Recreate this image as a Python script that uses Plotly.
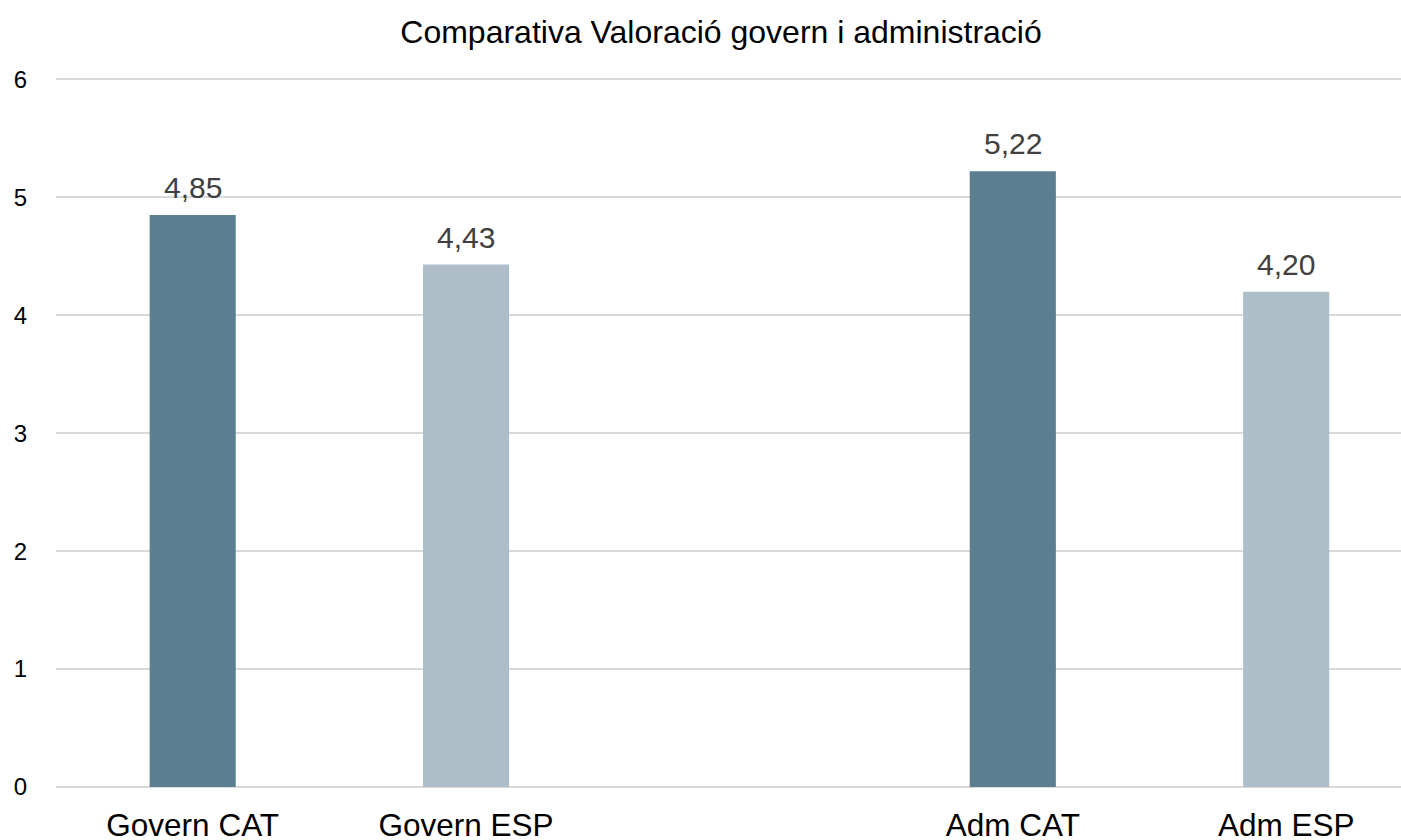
import plotly.graph_objects as go

categories = ["Govern CAT", "Govern ESP", " ", "Adm CAT", "Adm ESP"]
values = [4.85, 4.43, None, 5.22, 4.20]
bar_colors = ["#5B7E91", "#ADBEC8", "#FFFFFF", "#5B7E91", "#ADBEC8"]
y_ticks = [0, 1, 2, 3, 4, 5, 6]
title_text = "Comparativa Valoració govern i administració"

FONT = "Arial, 'Liberation Sans', sans-serif"

fig = go.Figure()
fig.add_trace(go.Bar(
    x=categories,
    y=values,
    marker=dict(color=bar_colors, line=dict(width=0)),
    width=0.315,
    hoverinfo="skip",
))

annotations = []
for c, v in zip(categories, values):
    if v is None:
        continue
    annotations.append(dict(
        x=c, y=v, xref="x", yref="y",
        text=f"{v:.2f}".replace(".", ","),
        showarrow=False, yanchor="bottom", yshift=9,
        font=dict(family=FONT, size=30, color="#404040"),
    ))

fig.update_layout(
    width=1401, height=840,
    margin=dict(l=56, r=0, t=77, b=53, autoexpand=False),
    paper_bgcolor="white", plot_bgcolor="white",
    showlegend=False,
    separators=",.",
    title=dict(
        text=title_text,
        x=721 / 1401, xref="container", xanchor="center",
        y=1 - 32 / 840, yref="container", yanchor="middle",
        font=dict(family=FONT, size=32, color="#000000"),
    ),
    xaxis=dict(
        type="category",
        categoryorder="array", categoryarray=categories,
        range=[-0.5, 4.42],
        showgrid=False, showline=False, zeroline=False,
        ticks="", ticklabelstandoff=16,
        tickfont=dict(family=FONT, size=31.5, color="#000000"),
    ),
    yaxis=dict(
        range=[0, 6.02],
        tickvals=y_ticks,
        ticktext=[str(t) for t in y_ticks],
        showgrid=True, gridcolor="#D9D9D9", gridwidth=2,
        zeroline=True, zerolinecolor="#D9D9D9", zerolinewidth=2,
        showline=False, ticks="", ticklabelstandoff=28,
        tickfont=dict(family=FONT, size=24, color="#000000"),
    ),
    annotations=annotations,
)

fig.write_html(
    "out.html",
    config={"displayModeBar": False},
    post_script="document.body.style.margin='0';document.body.style.overflow='hidden';",
)
